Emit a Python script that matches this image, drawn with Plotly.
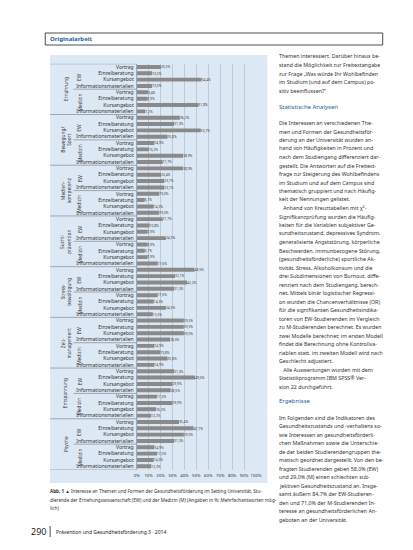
import plotly.graph_objects as go

W, H = 413, 550

# ---------------- data ----------------
topics = ["Ernährung", "Bewegung/<br>Sport", "Medien-<br>kompetenz", "Sucht-<br>prävention",
          "Stress-<br>bewältigung", "Zeit-<br>management", "Entspannung", "Psyche"]
groups = ["EW", "Medizin"]
forms = ["Vortrag", "Einzelberatung", "Kursangebot", "Informationsmaterialien"]

values_ew = [
    [20.3, 13.0, 54.4, 13.0],
    [36.2, 31.3, 53.7, 25.8],
    [38.9, 20.4, 23.1, 23.1],
    [21.7, 10.8, 8.9, 24.5],
    [48.5, 32.1, 42.2, 31.3],
    [39.5, 39.5, 39.5, 28.0],
    [31.3, 49.0, 29.9, 28.5],
    [35.4, 47.7, 39.5, 31.3],
]
values_m = [
    [9.4, 8.9, 51.8, 7.2],
    [14.9, 10.2, 38.9, 21.7],
    [19.0, 6.7, 14.3, 19.0],
    [8.9, 6.7, 8.9, 17.6],
    [17.6, 14.3, 24.5, 13.5],
    [14.9, 19.8, 25.8, 14.9],
    [17.0, 29.9, 16.3, 12.2],
    [14.9, 17.0, 14.3, 12.2],
]
x_ticks = [0, 10, 20, 30, 40, 50, 60, 70, 80, 90, 100]

header = "Originalarbeit"
para1 = ["Themen interessiert. Darüber hinaus be-",
         "stand die Möglichkeit zur Freitextangabe",
         "zur Frage „Was würde Ihr Wohlbefinden",
         "im Studium (und auf dem Campus) po-",
         "sitiv beeinflussen?“"]
head2 = "Statistische Analysen"
para2 = ["Die Interessen an verschiedenen The-",
         "men und Formen der Gesundheitsför-",
         "derung an der Universität wurden an-",
         "hand von Häufigkeiten in Prozent und",
         "nach dem Studiengang differenziert dar-",
         "gestellt. Die Antworten auf die Freitext-",
         "frage zur Steigerung des Wohlbefindens",
         "im Studium und auf dem Campus sind",
         "thematisch gruppiert und nach Häufig-",
         "keit der Nennungen gelistet.",
         "   Anhand von Kreuztabellen mit χ²-",
         "Signifikanzprüfung wurden die Häufig-",
         "keiten für die Variablen subjektiver Ge-",
         "sundheitszustand, depressives Syndrom,",
         "generalisierte Angststörung, körperliche",
         "Beschwerden, immunbezogene Störung,",
         "(gesundheitsförderliche) sportliche Ak-",
         "tivität, Stress, Alkoholkonsum und die",
         "drei Subdimensionen von Burnout, diffe-",
         "renziert nach dem Studiengang, berech-",
         "net. Mittels binär logistischer Regressi-",
         "on wurden die Chancenverhältnisse (OR)",
         "für die signifikanten Gesundheitsindika-",
         "toren von EW-Studierenden im Vergleich",
         "zu M-Studierenden berechnet. Es wurden",
         "zwei Modelle berechnet; im ersten Modell",
         "findet die Berechnung ohne Kontrollva-",
         "riablen statt, im zweiten Modell wird nach",
         "Geschlecht adjustiert.",
         "   Alle Auswertungen wurden mit dem",
         "Statistikprogramm IBM SPSS® Ver-",
         "sion 22 durchgeführt."]
head3 = "Ergebnisse"
para3 = ["Im Folgenden sind die Indikatoren des",
         "Gesundheitszustands und -verhaltens so-",
         "wie Interessen an gesundheitsförderli-",
         "chen Maßnahmen sowie die Unterschie-",
         "de der beiden Studierendengruppen the-",
         "matisch geordnet dargestellt. Von den be-",
         "fragten Studierenden geben 58,0% (EW)",
         "und 29,0% (M) einen schlechten sub-",
         "jektiven Gesundheitszustand an. Insge-",
         "samt äußern 84,7% der EW-Studieren-",
         "den und 71,0% der M-Studierenden In-",
         "teresse an gesundheitsförderlichen An-",
         "geboten an der Universität."]
caption = ["<b>Abb. 1</b> ▲ Interesse an Themen und Formen der Gesundheitsförderung im Setting Universität, Stu-",
           "dierende der Erziehungswissenschaft (EW) und der Medizin (M) (Angaben in %; Mehrfachantworten mög-",
           "lich)"]
footer_page = "290"
footer_text = "Prävention und Gesundheitsförderung 3 · 2014"

# ---------------- build ----------------
FONT = "Noto Sans"
TXT = "#333333"
BLUE = "#1d5ea8"

ys, xs, labels, texts = [], [], [], []
for t in range(len(topics)):
    for g, vals in enumerate([values_ew[t], values_m[t]]):
        for f, v in enumerate(vals):
            idx = t * 8 + g * 4 + f
            ys.append(idx)
            xs.append(v)
            labels.append(forms[f])
            texts.append(f"{v:.1f}%".replace(".", ","))

n = len(ys)
px = lambda p: 1 - p / H
fx = lambda p: p / W

fig = go.Figure(go.Bar(
    x=xs, y=ys, orientation="h", text=texts, textposition="outside",
    textfont=dict(size=5, color=TXT, family=FONT), cliponaxis=False,
    marker=dict(color="#8a8a8a", line=dict(width=0)), width=0.62,
))

top_px, bot_px = 55.8, 461.5
fig.update_layout(
    width=W, height=H, margin=dict(l=0, r=0, t=0, b=0),
    paper_bgcolor="white", plot_bgcolor="rgba(0,0,0,0)",
    showlegend=False, font=dict(family=FONT, color=TXT),
    xaxis=dict(domain=[fx(128.5), fx(250.5)], range=[0, 100], tickvals=x_ticks,
               ticktext=[f"{v}%" for v in x_ticks], tickfont=dict(size=4.3, color=TXT),
               tickangle=0, showgrid=True, gridcolor="#bccbd9", gridwidth=0.6, zeroline=False,
               showline=False, ticks="", ticklabelstandoff=2),
    yaxis=dict(domain=[px(bot_px), px(top_px)], range=[n - 0.5, -0.5], tickvals=ys,
               ticktext=labels, tickfont=dict(size=5, color=TXT), showgrid=False,
               zeroline=False, showline=False, ticks="", ticklabelstandoff=2),
)

shapes = []
shapes.append(dict(type="rect", xref="paper", yref="paper", x0=fx(40), x1=fx(262),
                   y0=px(475), y1=px(47), fillcolor="#dce8f4", line=dict(width=0), layer="below"))
shapes.append(dict(type="line", xref="paper", yref="y", x0=fx(128.5), x1=fx(128.5),
                   y0=-0.5, y1=n - 0.5, line=dict(color="#7f8c99", width=0.8)))
for t in range(len(topics) + 1):
    yy = t * 8 - 0.5
    shapes.append(dict(type="line", xref="paper", yref="y", x0=fx(40), x1=fx(128.5),
                       y0=yy, y1=yy, line=dict(color="#7f8c99", width=0.7)))
for t in range(len(topics)):
    yy = t * 8 + 3.5
    shapes.append(dict(type="line", xref="paper", yref="y", x0=fx(64), x1=fx(128.5),
                       y0=yy, y1=yy, line=dict(color="#7f8c99", width=0.7)))
shapes.append(dict(type="rect", xref="paper", yref="paper", x0=fx(35), x1=fx(380),
                   y0=px(37), y1=px(25), line=dict(color="#222222", width=0.8)))
shapes.append(dict(type="line", xref="paper", yref="paper", x0=fx(40), x1=fx(40),
                   y0=px(518), y1=px(529), line=dict(color="#222222", width=0.8)))
fig.update_layout(shapes=shapes)

ann = []
for t, name in enumerate(topics):
    ann.append(dict(text=name, xref="paper", yref="y", x=fx(56), y=t * 8 + 3.5,
                    textangle=-90, showarrow=False, font=dict(size=4.8, color=TXT),
                    xanchor="center", yanchor="middle"))
    for g, gname in enumerate(groups):
        ann.append(dict(text=gname, xref="paper", yref="y", x=fx(70), y=t * 8 + g * 4 + 1.5,
                        textangle=-90, showarrow=False, font=dict(size=4.8, color=TXT),
                        xanchor="center", yanchor="middle"))

def add_line(text, x, y, size=5.3, color=TXT, bold=False):
    ann.append(dict(text=f"<b>{text}</b>" if bold else text, xref="paper", yref="paper",
                    x=fx(x), y=px(y), xanchor="left", yanchor="middle", showarrow=False,
                    font=dict(size=size, color=color, family=FONT)))

add_line(header, 38, 31, size=6, color=BLUE, bold=True)
LS = 8.5
for i, line in enumerate(para1):
    add_line(line, 272, 48.5 + i * LS)
add_line(head2, 272, 99, size=6, color=BLUE)
for i, line in enumerate(para2):
    add_line(line, 272, 115 + i * LS)
add_line(head3, 272, 393, size=6, color=BLUE)
for i, line in enumerate(para3):
    add_line(line, 272, 409.5 + i * LS)
for i, line in enumerate(caption):
    add_line(line, 38, 483 + i * 8.5, size=4.6)
add_line(footer_page, 18, 523.5, size=9, color="#222222")
add_line(footer_text, 44, 523.5, size=5, color="#222222")

fig.update_layout(annotations=ann)
fig.write_html("out.html")
